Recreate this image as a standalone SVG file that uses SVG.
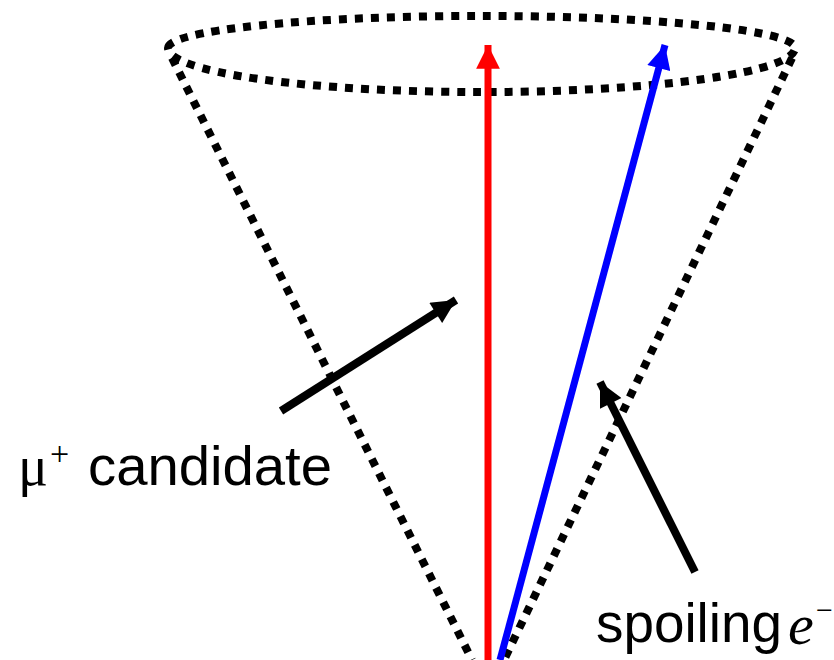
<svg xmlns="http://www.w3.org/2000/svg" width="834" height="660" viewBox="0 0 834 660">
<style>
.dot{fill:none;stroke:#000;stroke-width:8;stroke-dasharray:8 8}
.sans{font-family:"Liberation Sans",Arial,sans-serif;font-size:56px;fill:#000}
.serif{font-family:"Liberation Serif","Times New Roman",serif;fill:#000}
</style>
<defs>
<marker id="hr" viewBox="0 0 10 10" refX="10" refY="5" markerWidth="3.5" markerHeight="3.4" orient="auto" markerUnits="strokeWidth"><path d="M0,0 L10,5 L0,10 z" fill="#ff0000"/></marker>
<marker id="hb" viewBox="0 0 10 10" refX="10" refY="5" markerWidth="3.5" markerHeight="3.4" orient="auto" markerUnits="strokeWidth"><path d="M0,0 L10,5 L0,10 z" fill="#0000ff"/></marker>
<marker id="hk" viewBox="0 0 10 10" refX="10" refY="5" markerWidth="3.3" markerHeight="3" orient="auto" markerUnits="strokeWidth"><path d="M0,0 L10,5 L0,10 z" fill="#000"/></marker>
</defs>
<g id="cone">
<path class="dot" d="M168,48 A313,32 0 0 1 795,48 A313,44 0 0 1 168,48"/>
<line class="dot" x1="172" y1="58" x2="472" y2="660"/>
<line class="dot" x1="792" y1="58" x2="504" y2="660"/>
</g>
<g id="connectors">
<line x1="488" y1="660" x2="488" y2="45" stroke="#ff0000" stroke-width="7" marker-end="url(#hr)"/>
<line x1="500" y1="660" x2="665" y2="45" stroke="#0000ff" stroke-width="7" marker-end="url(#hb)"/>
<line x1="281" y1="411" x2="456" y2="300" stroke="#000" stroke-width="8" marker-end="url(#hk)"/>
<line x1="695" y1="572" x2="600" y2="382" stroke="#000" stroke-width="8" marker-end="url(#hk)"/>
</g>
<g id="label-mu">
<text class="serif" x="18" y="485" font-size="56">μ<tspan x="50" y="465" font-size="34">+</tspan></text>
<text class="sans" x="88" y="485" textLength="244" lengthAdjust="spacingAndGlyphs">candidate</text>
</g>
<g id="label-e">
<text class="sans" x="596" y="642" textLength="186" lengthAdjust="spacingAndGlyphs">spoiling</text>
<text class="serif" x="788" y="644" font-size="58" font-style="italic">e</text>
<text class="serif" x="816" y="620" font-size="30">−</text>
</g>
</svg>
